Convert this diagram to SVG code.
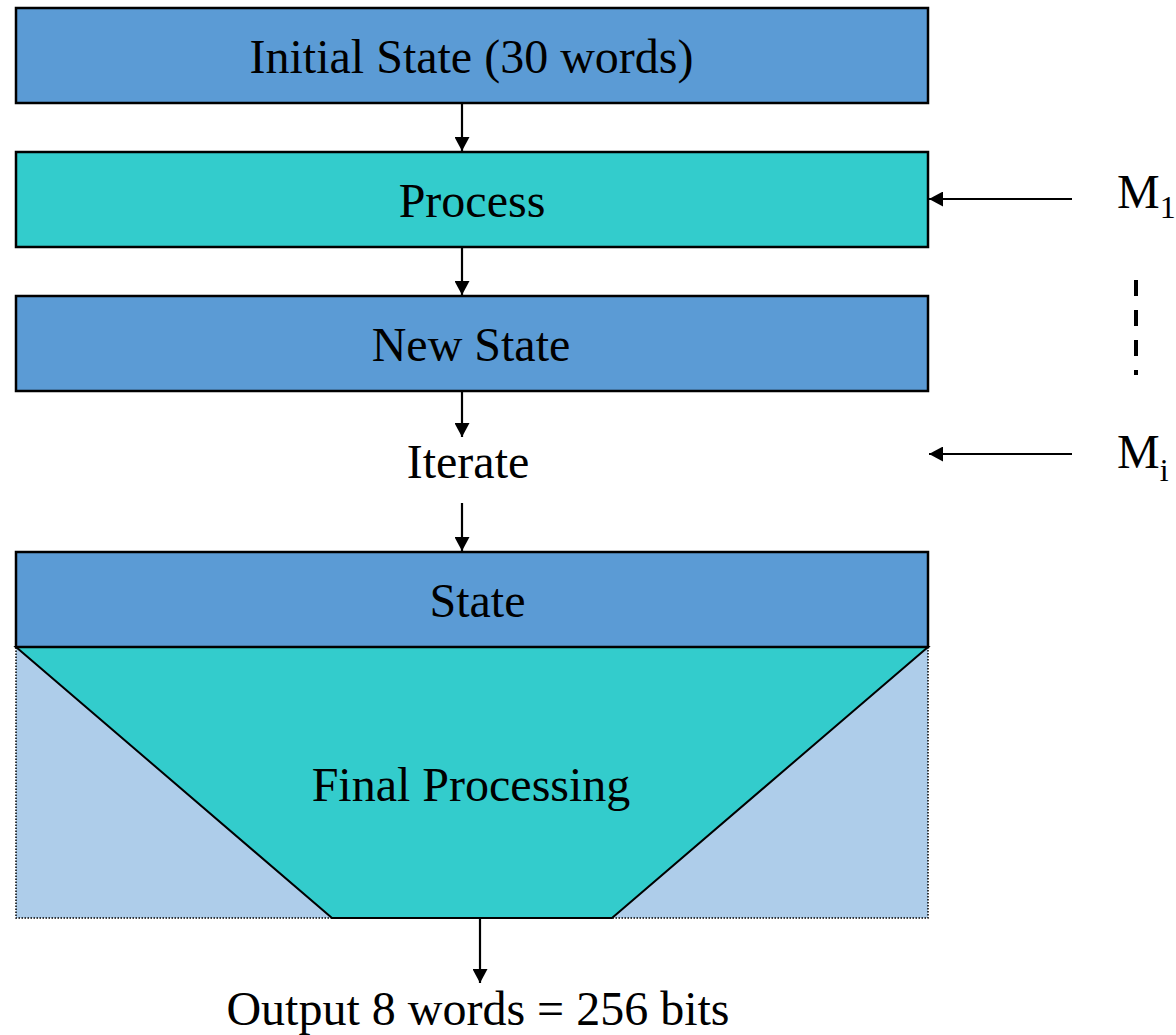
<svg xmlns="http://www.w3.org/2000/svg" width="1176" height="1035" viewBox="0 0 1176 1035">
<style>
.box{stroke:#000;stroke-width:2.5}
.blue{fill:#5B9BD5}
.teal{fill:#33CCCC}
.light{fill:#AECDEA}
.lbl{font-family:"Liberation Serif","Times New Roman",serif;font-size:48px;fill:#000;text-anchor:middle}
.sub{font-size:32px}
.conn{stroke:#000;stroke-width:2.2;fill:none}
</style>
<defs>
<marker id="ah" markerWidth="14" markerHeight="15" refX="14" refY="7.5" orient="auto" markerUnits="userSpaceOnUse">
<path d="M0,0 L14,7.5 L0,15 Z" fill="#000"/>
</marker>
</defs>
<rect width="1176" height="1035" fill="#fff"/>
<g id="initial-state">
<rect class="box blue" x="16" y="8" width="912" height="95"/>
<text class="lbl" x="471.5" y="73">Initial State (30 words)</text>
</g>
<g id="process">
<rect class="box teal" x="16" y="152" width="912" height="95"/>
<text class="lbl" x="472" y="217">Process</text>
</g>
<g id="new-state">
<rect class="box blue" x="16" y="296" width="912" height="95"/>
<text class="lbl" x="471" y="361">New State</text>
</g>
<g id="iterate">
<text class="lbl" x="468" y="478">Iterate</text>
</g>
<g id="final-processing">
<rect class="light" x="16" y="647" width="912" height="271" stroke="#000" stroke-width="1.5" stroke-dasharray="1.5,1.5"/>
<polygon class="teal" points="16,647 928,647 612,918 332,918" stroke="#000" stroke-width="2"/>
<text class="lbl" x="471" y="801">Final Processing</text>
</g>
<g id="state">
<rect class="box blue" x="16" y="552" width="912" height="95"/>
<text class="lbl" x="477.5" y="617">State</text>
</g>
<g id="m1">
<text class="lbl" x="1117" y="208" text-anchor="start" style="text-anchor:start">M<tspan class="sub" dy="10">1</tspan></text>
</g>
<g id="mi">
<text class="lbl" x="1117" y="468" text-anchor="start" style="text-anchor:start">M<tspan class="sub" dy="13">i</tspan></text>
</g>
<g id="output">
<text class="lbl" x="478" y="1025">Output 8 words = 256 bits</text>
</g>
<g id="connectors">
<line class="conn" x1="462" y1="104" x2="462" y2="151" marker-end="url(#ah)"/>
<line class="conn" x1="462" y1="248" x2="462" y2="295" marker-end="url(#ah)"/>
<line class="conn" x1="462" y1="392" x2="462" y2="437" marker-end="url(#ah)"/>
<line class="conn" x1="462" y1="503" x2="462" y2="551" marker-end="url(#ah)"/>
<line class="conn" x1="480" y1="919" x2="480" y2="983" marker-end="url(#ah)"/>
<line class="conn" x1="1072" y1="199" x2="929" y2="199" marker-end="url(#ah)"/>
<line class="conn" x1="1072" y1="454" x2="929" y2="454" marker-end="url(#ah)"/>
<line x1="1136" y1="280" x2="1136" y2="375" stroke="#000" stroke-width="4" stroke-dasharray="16,14"/>
</g>
</svg>
